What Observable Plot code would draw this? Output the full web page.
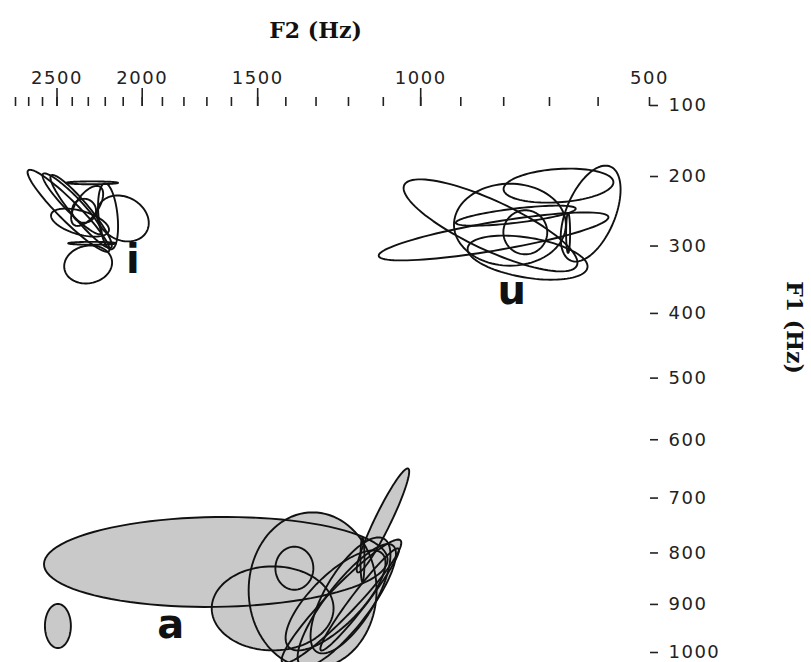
<!DOCTYPE html>
<html>
<head>
<meta charset="utf-8">
<script src="https://cdn.jsdelivr.net/npm/d3@7"></script>
<script src="https://cdn.jsdelivr.net/npm/@observablehq/plot@0.6"></script>
<style>
  body { margin: 0; background: #fff; }
  #chart svg { display: block; }
  #chart [aria-label="x-axis tick label"] text,
  #chart [aria-label="y-axis tick label"] text { letter-spacing: 1.5px; }
</style>
</head>
<body>
<div id="chart"></div>
<script>
// Zwicker critical-band rate: both formant axes are spaced in Bark
const bark = f => 13 * Math.atan(0.00076 * f) + 3.5 * Math.atan((f / 7500) ** 2);

// Axis ticks (Hz)
const f2Ticks = [2800, 2700, 2600, 2500, 2400, 2300, 2200, 2100, 2000, 1900, 1800, 1700,
                 1600, 1500, 1400, 1300, 1200, 1100, 1000, 900, 800, 700, 600, 500];
const f2Major = [2500, 2000, 1500, 1000];
const f2Labeled = [2500, 2000, 1500, 1000, 500];
const f1Ticks = [100, 200, 300, 400, 500, 600, 700, 800, 900, 1000];

// One dispersion ellipse per speaker token set:
// centre F2/F1 (Hz), spread along F2 and F1 (Bark), F1–F2 correlation
const ellipseVowel = ["i", "i", "i", "i", "i", "i", "i", "i", "i", "i", "i",
                      "u", "u", "u", "u", "u", "u", "u", "u", "u",
                      "a", "a", "a", "a", "a", "a", "a", "a", "a", "a", "a", "a"];
const ellipseF2 = [2424, 2401, 2344, 2277, 2277, 2102, 2301, 2351, 2184, 2307, 2326,
                   823, 830, 786, 752, 681, 615, 747, 773, 661,
                   1663, 2494, 1311, 1446, 1371, 1101, 1221, 1205, 1167, 1194, 1159, 1239];
const ellipseF1 = [249, 239, 250, 209, 296, 260, 327, 266, 257, 242, 249,
                   286, 270, 269, 280, 213, 253, 317, 256, 281,
                   817, 944, 872, 908, 829, 740, 894, 902, 890, 882, 813, 892];
const ellipseSdF2 = [0.676, 0.488, 0.507, 0.428, 0.395, 0.428, 0.395, 0.478, 0.165, 0.264, 0.198,
                     1.895, 1.434, 0.923, 0.362, 0.906, 0.494, 0.989, 0.989, 0.033,
                     2.834, 0.214, 1.055, 1.005, 0.313, 0.433, 0.987, 0.811, 0.649, 0.659, 0.033, 0.824];
const ellipseSdF1 = [0.564, 0.419, 0.502, 0.02, 0.02, 0.316, 0.261, 0.193, 0.454, 0.275, 0.165,
                     0.330, 0.633, 0.564, 0.303, 0.234, 0.660, 0.303, 0.138, 0.275,
                     0.619, 0.303, 1.073, 0.578, 0.296, 0.715, 0.851, 0.844, 0.703, 0.798, 0.303, 0.688];
const ellipseR = [-0.94, -0.93, -0.93, 0, 0, -0.2, 0.1, -0.5, -0.3, 0.6, 0,
                  0.8, -0.81, 0, 0, 0.2, 0.5, -0.4, 0.7, 0,
                  0.05, 0, 0, 0, 0, 0.94, 0.947, 0.84, 0.967, 0.7, 0, 0.75];

// Vowel symbols and where they sit (Hz)
const vowels = ["i", "u", "a"];
const vowelF2 = [2048, 782, 1860];
const vowelF1 = [320, 366, 942];

// Trace each ellipse outline in Bark space
const steps = 96;
const outlines = [];
ellipseF2.forEach((f2, k) => {
  const cx = bark(f2), cy = bark(ellipseF1[k]);
  const sx = ellipseSdF2[k], sy = ellipseSdF1[k], r = ellipseR[k];
  const q = Math.sqrt(1 - r * r);
  for (let j = 0; j < steps; j++) {
    const t = (2 * Math.PI * j) / steps;
    outlines.push({
      id: k,
      vowel: ellipseVowel[k],
      x: cx + sx * Math.cos(t),
      y: cy + sy * (r * Math.cos(t) + q * Math.sin(t))
    });
  }
});

const f2Label = new Map(f2Labeled.map(f => [bark(f), String(f)]));
const f1Label = new Map(f1Ticks.map(f => [bark(f), String(f)]));
const tickFont = {fontFamily: "DejaVu Sans", fontSize: 18, fill: "#222"};
const titleFont = {fontFamily: "DejaVu Serif", fontWeight: "bold", fontSize: 22, fill: "#111"};

const chart = Plot.plot({
  width: 811,
  height: 662,
  marginTop: 105,
  marginRight: 162,
  marginBottom: 10,
  marginLeft: 15,
  x: {domain: [bark(2800), bark(500)], axis: null},
  y: {domain: [bark(100), bark(1000)], reverse: true, axis: null},
  marks: [
    // shaded /a/ ellipses, then every outline on top
    Plot.line(outlines.filter(d => d.vowel === "a"), {
      x: "x", y: "y", z: "id", curve: "linear-closed", fill: "#c9c9c9", stroke: "none"
    }),
    Plot.line(outlines, {
      x: "x", y: "y", z: "id", curve: "linear-closed", fill: "none", stroke: "#111", strokeWidth: 1.9
    }),
    // F2 scale along the top
    Plot.axisX(f2Ticks.map(bark), {anchor: "top", tickSize: 9, tickFormat: () => "", label: null, stroke: "#222", strokeWidth: 1.6}),
    Plot.axisX(f2Major.map(bark), {anchor: "top", tickSize: 18, tickFormat: () => "", label: null, stroke: "#222", strokeWidth: 1.6}),
    Plot.axisX(f2Labeled.map(bark), {anchor: "top", tickSize: 0, tickPadding: 22, tickFormat: d => f2Label.get(d), label: null, ...tickFont}),
    // F1 scale down the right
    Plot.axisY(f1Ticks.map(bark), {anchor: "right", tickSize: 8, tickPadding: 11, tickFormat: d => f1Label.get(d), label: null, stroke: "#222", strokeWidth: 1.6, ...tickFont}),
    // axis titles
    Plot.text(["F2 (Hz)"], {frameAnchor: "top-left", dx: 300, dy: -68, textAnchor: "middle", lineAnchor: "bottom", ...titleFont}),
    Plot.text(["F1 (Hz)"], {frameAnchor: "top-right", dx: 145, dy: 222, rotate: 90, textAnchor: "middle", lineAnchor: "middle", ...titleFont}),
    // vowel symbols
    Plot.text(vowels, {
      x: (d, i) => bark(vowelF2[i]), y: (d, i) => bark(vowelF1[i]), text: d => d,
      fontFamily: "DejaVu Sans", fontWeight: "bold", fontSize: 40, fill: "#111", lineAnchor: "middle"
    })
  ]
});

document.getElementById("chart").append(chart);
</script>
</body>
</html>
